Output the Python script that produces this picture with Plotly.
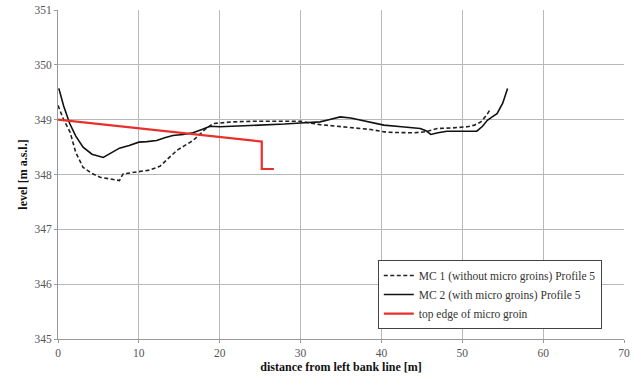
import plotly.graph_objects as go

mc1_x = [0.0, 0.7, 1.5, 2.2, 3.1, 4.2, 5.2, 6.5, 7.6, 8.05, 9.0, 10.0, 11.3, 12.6, 13.7, 14.7, 15.7, 16.7, 17.6, 18.4, 19.2, 20.5, 21.7, 24.0, 27.0, 30.0, 32.4, 34.5, 36.6, 38.7, 40.7, 42.5, 44.0, 45.5, 46.9, 48.8, 50.6, 51.5, 52.3, 53.0, 53.5]
mc1_y = [349.26, 349.0, 348.77, 348.4, 348.13, 348.02, 347.95, 347.92, 347.89, 348.01, 348.03, 348.04, 348.08, 348.15, 348.3, 348.44, 348.53, 348.62, 348.74, 348.85, 348.93, 348.95, 348.96, 348.97, 348.97, 348.97, 348.91, 348.88, 348.84, 348.82, 348.77, 348.77, 348.76, 348.78, 348.84, 348.85, 348.87, 348.9, 348.96, 349.08, 349.2]

mc2_x = [0.1, 0.7, 1.45, 2.2, 3.1, 4.2, 5.6, 6.5, 7.6, 8.8, 10.0, 11.0, 12.2, 13.2, 14.2, 15.5, 16.7, 17.8, 18.8, 20.0, 22.0, 25.0, 28.0, 30.0, 32.4, 33.5, 34.9, 36.2, 37.4, 38.8, 40.3, 42.5, 44.8, 45.5, 46.1, 47.0, 48.1, 50.0, 51.8, 52.5, 53.1, 53.7, 54.3, 55.0, 55.6]
mc2_y = [349.57, 349.25, 348.93, 348.7, 348.5, 348.37, 348.31, 348.38, 348.48, 348.53, 348.59, 348.6, 348.62, 348.67, 348.71, 348.73, 348.76, 348.82, 348.88, 348.87, 348.88, 348.9, 348.92, 348.94, 348.96, 349.0, 349.05, 349.03, 348.99, 348.94, 348.9, 348.87, 348.84, 348.8, 348.73, 348.76, 348.79, 348.79, 348.79, 348.88, 348.99, 349.05, 349.11, 349.3, 349.57]

groin_x = [0.0, 25.2, 25.2, 26.7]
groin_y = [349.0, 348.6, 348.1, 348.1]

x_ticks = [0, 10, 20, 30, 40, 50, 60, 70]
y_ticks = [345, 346, 347, 348, 349, 350, 351]

SERIF = "Liberation Serif"

fig = go.Figure()
fig.add_trace(go.Scatter(x=mc1_x, y=mc1_y, mode="lines", name="MC 1 (without micro groins) Profile 5",
                         line=dict(color="#222222", width=1.6, dash="4px,2.5px")))
fig.add_trace(go.Scatter(x=mc2_x, y=mc2_y, mode="lines", name="MC 2 (with micro groins) Profile 5",
                         line=dict(color="#111111", width=1.6)))
fig.add_trace(go.Scatter(x=groin_x, y=groin_y, mode="lines", name="top edge of micro groin",
                         line=dict(color="#e8302a", width=2.2)))

fig.update_layout(
    width=635, height=378,
    margin=dict(l=58, r=11, t=10, b=39, autoexpand=False),
    paper_bgcolor="white", plot_bgcolor="white",
    font=dict(family=SERIF, size=11.5, color="#555555"),
    showlegend=True,
    legend=dict(x=0.565, y=0.24, xanchor="left", yanchor="top",
                bgcolor="white", bordercolor="#444444", borderwidth=1,
                font=dict(family=SERIF, size=11.5, color="#333333"),
                tracegroupgap=0, itemwidth=30),
)
fig.update_xaxes(range=[0, 70], tickvals=x_ticks, showgrid=True, gridcolor="#b8b8b8", gridwidth=1,
                 showline=True, linecolor="#999999", mirror=False, zeroline=False, automargin=False,
                 ticks="outside", ticklen=3, tickcolor="#999999",
                 tickfont=dict(family=SERIF, size=11.5, color="#555555"),
                 title=dict(text="<b>distance from left bank line [m]</b>", standoff=4,
                            font=dict(family=SERIF, size=12, color="#111111")))
fig.update_yaxes(range=[345, 351], tickvals=y_ticks, showgrid=True, gridcolor="#b8b8b8", gridwidth=1,
                 showline=True, linecolor="#999999", zeroline=False, automargin=False,
                 ticks="outside", ticklen=3, tickcolor="#999999",
                 tickfont=dict(family=SERIF, size=11.5, color="#555555"),
                 title=dict(text="<b>level [m a.s.l.]</b>", standoff=4,
                            font=dict(family=SERIF, size=12, color="#111111")))

fig.write_html("out.html")
